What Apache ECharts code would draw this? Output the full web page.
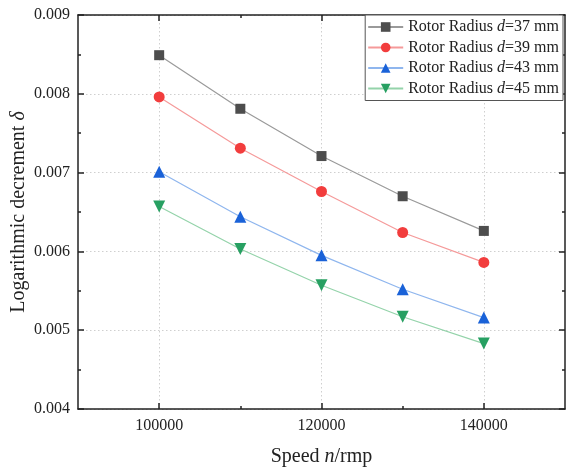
<!DOCTYPE html>
<html>
<head>
<meta charset="utf-8">
<script src="https://cdn.jsdelivr.net/npm/echarts@6/dist/echarts.min.js"></script>
<style>html,body{margin:0;padding:0;background:#fff}#c{width:567px;height:467px}</style>
</head>
<body>
<div id="c"></div>
<script>
var speeds = [100000, 110000, 120000, 130000, 140000];
var d37 = [0.00849, 0.00781, 0.00721, 0.00670, 0.00626];
var d39 = [0.00796, 0.00731, 0.00676, 0.00624, 0.00586];
var d43 = [0.00701, 0.00644, 0.00595, 0.00552, 0.00516];
var d45 = [0.00657, 0.00603, 0.00557, 0.00517, 0.00483];
var seriesNames = ['Rotor Radius d=37 mm', 'Rotor Radius d=39 mm', 'Rotor Radius d=43 mm', 'Rotor Radius d=45 mm'];
var xMajor = [100000, 120000, 140000];
var xMinor = [110000, 130000];

var FONT = 'Liberation Serif';
var AX = '#222';
function pairs(vals) { return speeds.map(function (s, i) { return [s, vals[i]]; }); }

var chart = echarts.init(document.getElementById('c'), null, {renderer: 'canvas'});

function xAxisDef(pos, major, showLine, labels, split) {
  return {
    type: 'value', position: pos, min: 90000, max: 150000, interval: 10000,
    axisLine: {show: showLine, onZero: false, lineStyle: {color: AX, width: 1.5}},
    axisTick: {show: true, inside: true, length: major ? 6 : 3, customValues: major ? xMajor : xMinor, lineStyle: {color: AX, width: 1.5}},
    axisLabel: labels ? {show: true, customValues: xMajor, fontFamily: FONT, fontSize: 16, color: AX, margin: 9,
      formatter: function (v) { return String(Math.round(v)); }} : {show: false},
    splitLine: {show: split, lineStyle: {color: '#cfcfcf', type: [1.5, 2.5], width: 1}},
    minorTick: {show: false}
  };
}
function yAxisDef(pos, labels, split) {
  return {
    type: 'value', position: pos, min: 0.004, max: 0.009, interval: 0.001,
    axisLine: {show: true, onZero: false, lineStyle: {color: AX, width: 1.5}},
    axisTick: {show: true, inside: true, length: 6, lineStyle: {color: AX, width: 1.5}},
    minorTick: {show: true, splitNumber: 2, length: 3, lineStyle: {color: AX, width: 1.5}},
    axisLabel: labels ? {show: true, fontFamily: FONT, fontSize: 16, color: AX, margin: 8,
      formatter: function (v) { return v.toFixed(3); }} : {show: false},
    splitLine: {show: split, lineStyle: {color: '#cfcfcf', type: [1.5, 2.5], width: 1}}
  };
}

var xa0 = xAxisDef('bottom', true, true, true, true);
xa0.name = '{a|Speed }{i|n}{a|/rmp}';
xa0.nameLocation = 'middle';
xa0.nameGap = 38;
xa0.nameMoveOverlap = false;
xa0.nameTextStyle = {rich: {a: {fontFamily: FONT, fontSize: 20, color: AX}, i: {fontFamily: FONT, fontSize: 20, fontStyle: 'italic', color: AX}}};

var ya0 = yAxisDef('left', true, true);
ya0.name = '{a|Logarithmic decrement }{i|δ}';
ya0.nameLocation = 'middle';
ya0.nameGap = 49;
ya0.nameMoveOverlap = false;
ya0.nameTextStyle = {rich: {a: {fontFamily: FONT, fontSize: 20, color: AX}, i: {fontFamily: FONT, fontSize: 20, fontStyle: 'italic', color: AX}}};

var styles = [
  {sym: 'rect', size: 10, rot: 0, mc: '#4d4d4d', lc: '#9a9a9a', data: d37},
  {sym: 'circle', size: 11, rot: 0, mc: '#f23d3d', lc: '#f59a9a', data: d39},
  {sym: 'triangle', size: 12, rot: 0, mc: '#1a62d8', lc: '#8fb6ee', data: d43},
  {sym: 'triangle', size: 12, rot: 180, mc: '#27a062', lc: '#94d3aa', data: d45}
];

var series = styles.map(function (s, i) {
  return {
    name: seriesNames[i], type: 'line', xAxisIndex: 0, yAxisIndex: 0,
    data: pairs(s.data), symbol: s.sym, symbolSize: s.size, symbolRotate: s.rot,
    showAllSymbol: true, animation: false,
    lineStyle: {color: s.lc, width: 1.2},
    itemStyle: {color: s.mc, opacity: 1}
  };
});

chart.setOption({
  animation: false,
  backgroundColor: '#fff',
  grid: {left: 78, top: 15, right: 2, bottom: 58, containLabel: false, outerBoundsMode: 'none'},
  xAxis: [
    xa0,
    xAxisDef('bottom', false, false, false, false),
    xAxisDef('top', true, true, false, false),
    xAxisDef('top', false, false, false, false)
  ],
  yAxis: [ya0, yAxisDef('right', false, false)],
  legend: {
    right: 4, top: 15, orient: 'vertical',
    backgroundColor: '#fff', borderColor: '#555', borderWidth: 1,
    padding: [4, 4, 4, 2], itemGap: 4.5, itemWidth: 35, itemHeight: 12,
    data: seriesNames,
    formatter: function (n) {
      var m = n.match(/^(Rotor Radius )d(=\d+ mm)$/);
      return '{a|' + m[1] + '}{i|d}{a|' + m[2] + '}';
    },
    textStyle: {rich: {
      a: {fontFamily: FONT, fontSize: 16, color: AX, lineHeight: 16},
      i: {fontFamily: FONT, fontSize: 16, fontStyle: 'italic', color: AX, lineHeight: 16}
    }}
  },
  series: series
});
</script>
</body>
</html>
